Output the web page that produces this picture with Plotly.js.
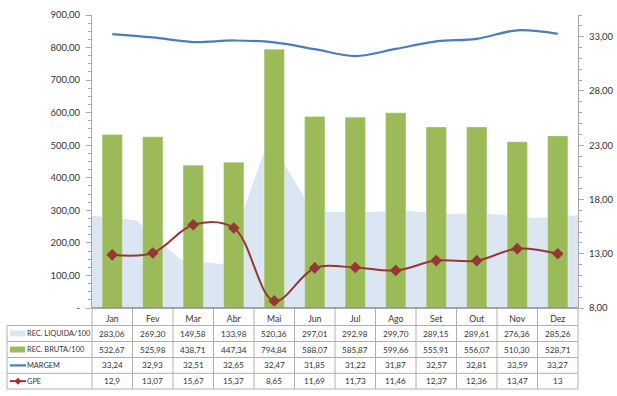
<!DOCTYPE html>
<html>
<head>
<meta charset="utf-8">
<script src="https://cdn.plot.ly/plotly-3.0.1.min.js"></script>
<style>html,body{margin:0;padding:0;background:#fff;}#chart{width:617px;height:396px;}</style>
</head>
<body>
<div id="chart"></div>
<script>
// ---- data ----
var months = ["Jan","Fev","Mar","Abr","Mai","Jun","Jul","Ago","Set","Out","Nov","Dez"];
var recLiquida = [283.06,269.30,149.58,133.98,520.36,297.01,292.98,299.70,289.15,289.61,276.36,285.26];
var recBruta = [532.67,525.98,438.71,447.34,794.84,588.07,585.87,599.66,555.91,556.07,510.30,528.71];
var margem = [33.24,32.93,32.51,32.65,32.47,31.85,31.22,31.87,32.57,32.81,33.59,33.27];
var gpe = [12.9,13.07,15.67,15.37,8.65,11.69,11.73,11.46,12.37,12.36,13.47,13];
var seriesNames = ["REC. LIQUIDA/100","REC. BRUTA/100","MARGEM","GPE"];
var leftTicks = [0,100,200,300,400,500,600,700,800,900];
var rightTicks = [8,13,18,23,28,33];

var FONT = "Lato, 'Liberation Sans', Arial, sans-serif";
var FS = 9.5;      // axis text
var FS_VAL = 8.2;  // table values
var FS_LAB = 7.4;  // table row labels
var TXT = '#333333';
var GRID = '#A6A6A6';
var C_AREA = '#DCE6F2', C_BAR = '#9BBB59', C_MARG = '#4A7EBB', C_GPE = '#953735';

function fmt2(v){ return v.toFixed(2).replace('.', ','); }
function fmtRaw(v){ return String(v).replace('.', ','); }

// pixel geometry of plot area
var L = 92, R = 578, T = 15, B = 308;
function px(x){ return (x - L) / (R - L); }
function py(y){ return (B - y) / (B - T); }

var traces = [
  {type:'scatter', x: months, y: recLiquida, xaxis:'x', yaxis:'y', mode:'none', fill:'tozeroy', fillcolor: C_AREA, name: seriesNames[0], hoverinfo:'skip'},
  {type:'bar', x: months, y: recBruta, xaxis:'x2', yaxis:'y', marker:{color: C_BAR, line:{color:'rgba(255,255,255,0.5)', width:0.5}}, name: seriesNames[1]},
  {type:'scatter', x: months, y: margem, xaxis:'x2', yaxis:'y2', mode:'lines', line:{color: C_MARG, width:2.25, shape:'spline', smoothing:1}, name: seriesNames[2]},
  {type:'scatter', x: months, y: gpe, xaxis:'x2', yaxis:'y2', mode:'lines+markers', line:{color: C_GPE, width:2, shape:'spline', smoothing:1}, marker:{symbol:'diamond', size:9, color: C_GPE}, name: seriesNames[3]}
];

var shapes = [];
var annotations = [];
function hline(y, x0, x1, color, w){ shapes.push({type:'line', xref:'paper', yref:'paper', x0:px(x0), x1:px(x1), y0:py(y), y1:py(y), line:{color:color, width:w||1}}); }
function vline(x, y0, y1, color, w){ shapes.push({type:'line', xref:'paper', yref:'paper', x0:px(x), x1:px(x), y0:py(y0), y1:py(y1), line:{color:color, width:w||1}}); }

// table geometry
var tblLeft = 7;
var rowTops = [325.5, 341.5, 357.5, 373.3];
var tblBottom = 389;
var colW = (R - L) / months.length;

rowTops.forEach(function(y){ hline(y, tblLeft, R, '#B0B0B0', 1); });
hline(tblBottom, tblLeft, R, '#B0B0B0', 1);
vline(tblLeft, rowTops[0], tblBottom, '#B0B0B0', 1);
for (var k = 0; k <= months.length; k++) {
  vline(L + k*colW, B, tblBottom, '#B0B0B0', 1);
}
hline(B, L, R, '#8C8C8C', 1.3);

var rows = [recLiquida.map(fmt2), recBruta.map(fmt2), margem.map(fmt2), gpe.map(fmtRaw)];
rows.forEach(function(r, ri){
  var yc = (rowTops[ri] + (ri < 3 ? rowTops[ri+1] : tblBottom)) / 2;
  r.forEach(function(t, ci){
    annotations.push({xref:'paper', yref:'paper', x: px(L + (ci+0.5)*colW), y: py(yc), text: t, showarrow:false,
      xanchor:'center', yanchor:'middle', font:{family:FONT, size:FS_VAL, color:TXT}});
  });
  annotations.push({xref:'paper', yref:'paper', x: px(24.5), y: py(yc), text: seriesNames[ri], showarrow:false,
    xanchor:'left', yanchor:'middle', font:{family:FONT, size:FS_LAB, color:TXT}});
});

var k1 = (rowTops[0]+rowTops[1])/2, k2 = (rowTops[1]+rowTops[2])/2, k3 = (rowTops[2]+rowTops[3])/2, k4 = (rowTops[3]+tblBottom)/2;
shapes.push({type:'rect', xref:'paper', yref:'paper', x0:px(10), x1:px(25), y0:py(k1-3), y1:py(k1+3), fillcolor:C_AREA, line:{width:0}});
shapes.push({type:'rect', xref:'paper', yref:'paper', x0:px(10), x1:px(25), y0:py(k2-3), y1:py(k2+3), fillcolor:C_BAR, line:{width:0}});
hline(k3, 10, 26, C_MARG, 2.25);
hline(k4, 10, 26, C_GPE, 2);
shapes.push({type:'path', xref:'paper', yref:'paper',
  path: 'M '+px(18)+' '+py(k4-3.5)+' L '+px(21.5)+' '+py(k4)+' L '+px(18)+' '+py(k4+3.5)+' L '+px(14.5)+' '+py(k4)+' Z',
  fillcolor:C_GPE, line:{width:0}});

var layout = {
  width: 617, height: 396,
  margin: {l: L, r: 617 - R, t: T, b: 396 - B},
  paper_bgcolor: '#fff', plot_bgcolor: 'rgba(0,0,0,0)',
  showlegend: false,
  bargap: 0.5,
  font: {family: FONT, size: FS, color: TXT},
  xaxis: {type:'category', range:[0, months.length-1], visible:false, fixedrange:true},
  xaxis2: {type:'category', overlaying:'x', range:[-0.5, months.length-0.5], side:'bottom', anchor:'y',
           showline:false, showgrid:false, zeroline:false, ticks:'', ticklabelstandoff: 4,
           tickfont:{family:FONT, size:FS_VAL + 0.5, color:TXT}},
  yaxis: {range:[0,900], tickmode:'array', tickvals: leftTicks,
          ticktext: leftTicks.map(function(v){ return v === 0 ? '-' : fmt2(v); }),
          ticks:'outside', ticklen:5, tickcolor:GRID, showline:true, linecolor:GRID, linewidth:1,
          showgrid:false, zeroline:false, tickfont:{family:FONT, size:FS, color:TXT}, ticklabelstandoff:4,
          minor:{tickmode:'linear', tick0:0, dtick:25, ticks:'outside', ticklen:3, tickcolor:GRID}},
  yaxis2: {range:[8,35], overlaying:'y', side:'right', anchor:'x2', tickmode:'array', tickvals: rightTicks,
           ticktext: rightTicks.map(fmt2),
           ticks:'outside', ticklen:5, tickcolor:GRID, showline:true, linecolor:GRID, linewidth:1,
           showgrid:false, zeroline:false, tickfont:{family:FONT, size:FS, color:TXT}, ticklabelstandoff:3,
           minor:{tickmode:'linear', tick0:8, dtick:1, ticks:'outside', ticklen:3, tickcolor:GRID}},
  shapes: shapes,
  annotations: annotations
};

Plotly.newPlot('chart', traces, layout, {displayModeBar:false, staticPlot:true});
</script>
</body>
</html>
